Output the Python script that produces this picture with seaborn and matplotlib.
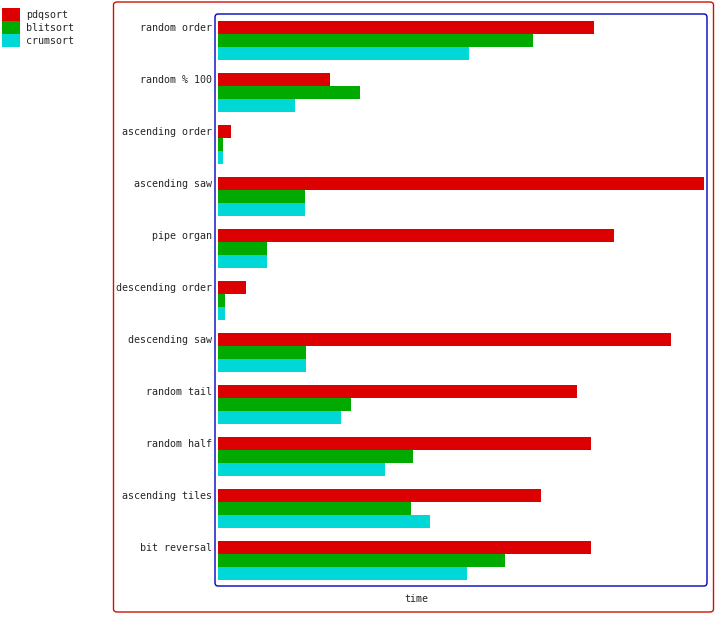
import matplotlib
matplotlib.use("Agg")
import matplotlib.pyplot as plt
from matplotlib.patches import FancyBboxPatch, Patch
import seaborn as sns
import pandas as pd

categories = ["random order", "random % 100", "ascending order", "ascending saw",
              "pipe organ", "descending order", "descending saw", "random tail",
              "random half", "ascending tiles", "bit reversal"]
series = ["pdqsort", "blitsort", "crumsort"]
pdqsort = [376, 112, 13, 486, 396, 28, 453, 359, 373, 323, 373]
blitsort = [315, 142, 5, 87, 49, 7, 88, 133, 195, 193, 287]
crumsort = [251, 77, 5, 87, 49, 7, 88, 123, 167, 212, 249]
colors = ["#dd0000", "#00aa00", "#00d8d8"]

rows = []
for name, vals in zip(series, [pdqsort, blitsort, crumsort]):
    for c, v in zip(categories, vals):
        rows.append({"test": c, "sort": name, "time": v})
df = pd.DataFrame(rows)

sns.set_style("white")
plt.rcParams["font.family"] = ["DejaVu Sans Mono"]
FS = 7.2

fig = plt.figure(figsize=(7.15, 6.17), dpi=100)
W, H = 715, 617
ax = fig.add_axes([215 / W, (H - 586) / H, 492 / W, 572 / H])

sns.barplot(data=df, y="test", x="time", hue="sort", order=categories,
            hue_order=series, palette=colors, width=0.75, orient="h",
            ax=ax, legend=False, saturation=1, linewidth=0)

ax.set_xlim(-3, 489)
ax.set_ylim(len(categories) - 0.5, -0.5)
ax.set_yticks([i - 0.25 for i in range(len(categories))])
ax.set_yticklabels(categories, fontsize=FS)
ax.set_xticks([])
ax.tick_params(axis="y", length=0, pad=2)
ax.set_ylabel("")
ax.set_xlabel("time", fontsize=FS)
ax.xaxis.set_label_coords(0.4085, -0.0135)
for s in ax.spines.values():
    s.set_visible(False)

inner = FancyBboxPatch((0, 0), 1, 1, boxstyle="round,pad=0,rounding_size=0.006",
                       transform=ax.transAxes, fill=False, edgecolor="#0000bb",
                       linewidth=1.0, clip_on=False)
ax.add_patch(inner)

outer = FancyBboxPatch((113.5 / W, (H - 612) / H), 600 / W, 610 / H,
                       boxstyle="round,pad=0,rounding_size=0.005",
                       transform=fig.transFigure, fill=False, edgecolor="#cc1100",
                       linewidth=1.0)
fig.patches.append(outer)

handles = [Patch(facecolor=c, edgecolor="none", label=s) for s, c in zip(series, colors)]
fig.legend(handles=handles, loc="upper left", bbox_to_anchor=(2 / W, 1 - 8 / H),
           frameon=False, fontsize=FS, handlelength=1.8, handleheight=1.62,
           labelspacing=0.0, handletextpad=0.6, borderpad=0, borderaxespad=0)

fig.savefig("out.png", dpi=100)
